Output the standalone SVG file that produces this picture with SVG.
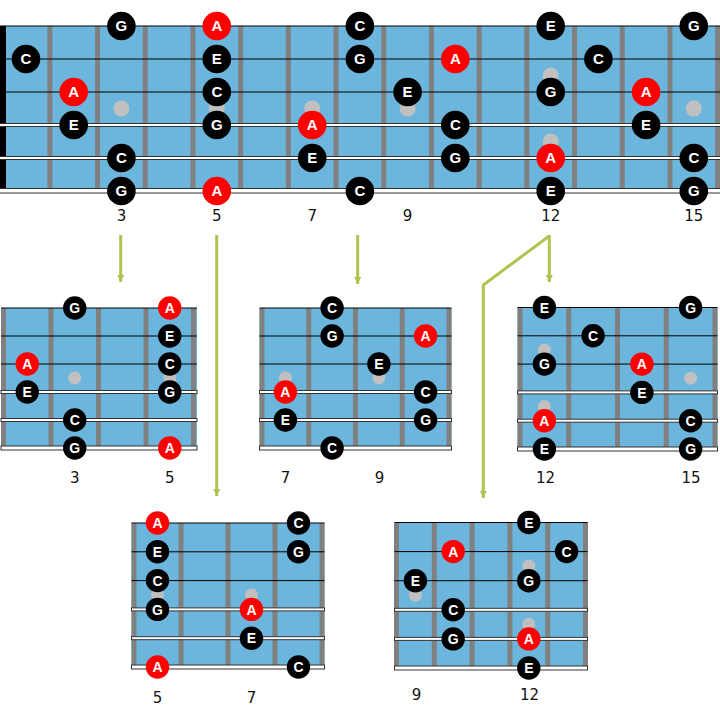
<svg xmlns="http://www.w3.org/2000/svg" width="720" height="719" viewBox="0 0 720 719">
<defs>
<style>
.bd{fill:#6cb6dd}
.nut{fill:#000}
.fr{fill:#808080}
.dot{fill:#c0c0c0}
.st{stroke:#000;stroke-width:1}
.wd{fill:#fff;stroke:#333;stroke-width:1}
.k{fill:#000}
.r{fill:#f00}
.t{font-family:"Liberation Sans",Arial,sans-serif;font-weight:bold;fill:#fff;text-anchor:middle}
.tb{font-size:15px}
.ts{font-size:14px}
.ts text{transform:translateY(0.3px)}
.num{font-family:"DejaVu Sans",Verdana,sans-serif;font-size:15px;fill:#111;text-anchor:middle}
.conn{fill:none;stroke:#adc54f;stroke-width:3}
</style>
<marker id="ah" markerUnits="userSpaceOnUse" markerWidth="8" markerHeight="8" viewBox="0 0 8 8" refX="7" refY="4" orient="auto">
<path d="M0,0.5 L7,4 L0,7.5 z" fill="#adc54f"/>
</marker>
</defs>
<rect width="720" height="719" fill="#fff"/>

<g id="board-main">
<rect class="bd" x="0" y="26" width="720" height="165"/>
<rect class="nut" x="0" y="26" width="6" height="163"/>
<g class="fr">
<rect x="47.35" y="26" width="5" height="165"/><rect x="95.05" y="26" width="5" height="165"/><rect x="142.75" y="26" width="5" height="165"/><rect x="190.45" y="26" width="5" height="165"/><rect x="238.15" y="26" width="5" height="165"/><rect x="285.85" y="26" width="5" height="165"/><rect x="333.55" y="26" width="5" height="165"/><rect x="381.25" y="26" width="5" height="165"/><rect x="428.95" y="26" width="5" height="165"/><rect x="476.65" y="26" width="5" height="165"/><rect x="524.35" y="26" width="5" height="165"/><rect x="572.05" y="26" width="5" height="165"/><rect x="619.75" y="26" width="5" height="165"/><rect x="667.45" y="26" width="5" height="165"/><rect x="715.15" y="26" width="5" height="165"/>
</g>
<g class="dot">
<circle cx="121.4" cy="108.5" r="8"/><circle cx="216.8" cy="108.5" r="8"/><circle cx="312.2" cy="108.5" r="8"/><circle cx="407.6" cy="108.5" r="8"/><circle cx="550.7" cy="75.5" r="8"/><circle cx="550.7" cy="141.5" r="8"/><circle cx="693.8" cy="108.5" r="8"/>
</g>
<line class="st" x1="0" y1="26" x2="720" y2="26"/>
<line class="st" x1="0" y1="59" x2="720" y2="59"/>
<line class="st" x1="0" y1="92" x2="720" y2="92"/>
<rect class="wd" x="-1" y="123.5" width="722" height="3"/>
<rect class="wd" x="-1" y="156.5" width="722" height="3"/>
<rect class="wd" x="-1" y="188.5" width="722" height="4.5"/>
<g class="t tb">
<circle class="k" cx="121.4" cy="26" r="14.3"/><text x="121.4" y="31.4">G</text>
<circle class="r" cx="216.8" cy="26" r="14.3"/><text x="216.8" y="31.4">A</text>
<circle class="k" cx="359.9" cy="26" r="14.3"/><text x="359.9" y="31.4">C</text>
<circle class="k" cx="550.7" cy="26" r="14.3"/><text x="550.7" y="31.4">E</text>
<circle class="k" cx="693.8" cy="26" r="14.3"/><text x="693.8" y="31.4">G</text>

<circle class="k" cx="26" cy="59" r="14.3"/><text x="26" y="64.4">C</text>
<circle class="k" cx="216.8" cy="59" r="14.3"/><text x="216.8" y="64.4">E</text>
<circle class="k" cx="359.9" cy="59" r="14.3"/><text x="359.9" y="64.4">G</text>
<circle class="r" cx="455.3" cy="59" r="14.3"/><text x="455.3" y="64.4">A</text>
<circle class="k" cx="598.4" cy="59" r="14.3"/><text x="598.4" y="64.4">C</text>

<circle class="r" cx="73.7" cy="92" r="14.3"/><text x="73.7" y="97.4">A</text>
<circle class="k" cx="216.8" cy="92" r="14.3"/><text x="216.8" y="97.4">C</text>
<circle class="k" cx="407.6" cy="92" r="14.3"/><text x="407.6" y="97.4">E</text>
<circle class="k" cx="550.7" cy="92" r="14.3"/><text x="550.7" y="97.4">G</text>
<circle class="r" cx="646.1" cy="92" r="14.3"/><text x="646.1" y="97.4">A</text>

<circle class="k" cx="73.7" cy="125" r="14.3"/><text x="73.7" y="130.4">E</text>
<circle class="k" cx="216.8" cy="125" r="14.3"/><text x="216.8" y="130.4">G</text>
<circle class="r" cx="312.2" cy="125" r="14.3"/><text x="312.2" y="130.4">A</text>
<circle class="k" cx="455.3" cy="125" r="14.3"/><text x="455.3" y="130.4">C</text>
<circle class="k" cx="646.1" cy="125" r="14.3"/><text x="646.1" y="130.4">E</text>

<circle class="k" cx="121.4" cy="158" r="14.3"/><text x="121.4" y="163.4">C</text>
<circle class="k" cx="312.2" cy="158" r="14.3"/><text x="312.2" y="163.4">E</text>
<circle class="k" cx="455.3" cy="158" r="14.3"/><text x="455.3" y="163.4">G</text>
<circle class="r" cx="550.7" cy="158" r="14.3"/><text x="550.7" y="163.4">A</text>
<circle class="k" cx="693.8" cy="158" r="14.3"/><text x="693.8" y="163.4">C</text>

<circle class="k" cx="121.4" cy="191" r="14.3"/><text x="121.4" y="196.4">G</text>
<circle class="r" cx="216.8" cy="191" r="14.3"/><text x="216.8" y="196.4">A</text>
<circle class="k" cx="359.9" cy="191" r="14.3"/><text x="359.9" y="196.4">C</text>
<circle class="k" cx="550.7" cy="191" r="14.3"/><text x="550.7" y="196.4">E</text>
<circle class="k" cx="693.8" cy="191" r="14.3"/><text x="693.8" y="196.4">G</text>
</g>
<g class="num">
<text x="121.4" y="221">3</text><text x="216.8" y="221">5</text><text x="312.2" y="221">7</text><text x="407.6" y="221">9</text><text x="550.7" y="221">12</text><text x="693.8" y="221">15</text>
</g>
</g>

<g id="board-3-5">
<rect class="bd" x="1" y="308" width="196" height="140"/>
<g class="fr">
<rect x="1" y="308" width="5" height="140"/><rect x="48.5" y="308" width="5" height="140"/><rect x="96" y="308" width="5" height="140"/><rect x="143.5" y="308" width="5" height="140"/><rect x="191" y="308" width="5" height="140"/>
</g>
<g class="dot"><circle cx="74.75" cy="378" r="6.5"/><circle cx="169.75" cy="378" r="6.5"/></g>
<line class="st" x1="1" y1="308" x2="197" y2="308"/>
<line class="st" x1="1" y1="336" x2="197" y2="336"/>
<line class="st" x1="1" y1="364" x2="197" y2="364"/>
<rect class="wd" x="1" y="390.5" width="196" height="3"/>
<rect class="wd" x="1" y="418.5" width="196" height="3"/>
<rect class="wd" x="1" y="446" width="196" height="4"/>
<g class="t ts">
<circle class="k" cx="74.75" cy="308" r="11.7"/><text x="74.75" y="313">G</text>
<circle class="r" cx="169.75" cy="308" r="11.7"/><text x="169.75" y="313">A</text>
<circle class="k" cx="169.75" cy="336" r="11.7"/><text x="169.75" y="341">E</text>
<circle class="r" cx="27.25" cy="364" r="11.7"/><text x="27.25" y="369">A</text>
<circle class="k" cx="169.75" cy="364" r="11.7"/><text x="169.75" y="369">C</text>
<circle class="k" cx="27.25" cy="392" r="11.7"/><text x="27.25" y="397">E</text>
<circle class="k" cx="169.75" cy="392" r="11.7"/><text x="169.75" y="397">G</text>
<circle class="k" cx="74.75" cy="420" r="11.7"/><text x="74.75" y="425">C</text>
<circle class="k" cx="74.75" cy="448" r="11.7"/><text x="74.75" y="453">G</text>
<circle class="r" cx="169.75" cy="448" r="11.7"/><text x="169.75" y="453">A</text>
</g>
<g class="num"><text x="74.75" y="483">3</text><text x="169.75" y="483">5</text></g>
</g>

<g id="board-7-9">
<rect class="bd" x="259.5" y="308" width="192" height="140"/>
<g class="fr">
<rect x="259.5" y="308" width="5" height="140"/><rect x="306.25" y="308" width="5" height="140"/><rect x="353" y="308" width="5" height="140"/><rect x="399.75" y="308" width="5" height="140"/><rect x="446.5" y="308" width="5" height="140"/>
</g>
<g class="dot"><circle cx="285.4" cy="378" r="6.5"/><circle cx="378.9" cy="378" r="6.5"/></g>
<line class="st" x1="259.5" y1="308" x2="451.5" y2="308"/>
<line class="st" x1="259.5" y1="336" x2="451.5" y2="336"/>
<line class="st" x1="259.5" y1="364" x2="451.5" y2="364"/>
<rect class="wd" x="259.5" y="390.5" width="192" height="3"/>
<rect class="wd" x="259.5" y="418.5" width="192" height="3"/>
<rect class="wd" x="259.5" y="446" width="192" height="4"/>
<g class="t ts">
<circle class="k" cx="332.1" cy="308" r="11.7"/><text x="332.1" y="313">C</text>
<circle class="k" cx="332.1" cy="336" r="11.7"/><text x="332.1" y="341">G</text>
<circle class="r" cx="425.6" cy="336" r="11.7"/><text x="425.6" y="341">A</text>
<circle class="k" cx="378.9" cy="364" r="11.7"/><text x="378.9" y="369">E</text>
<circle class="r" cx="285.4" cy="392" r="11.7"/><text x="285.4" y="397">A</text>
<circle class="k" cx="425.6" cy="392" r="11.7"/><text x="425.6" y="397">C</text>
<circle class="k" cx="285.4" cy="420" r="11.7"/><text x="285.4" y="425">E</text>
<circle class="k" cx="425.6" cy="420" r="11.7"/><text x="425.6" y="425">G</text>
<circle class="k" cx="332.1" cy="448" r="11.7"/><text x="332.1" y="453">C</text>
</g>
<g class="num"><text x="285.4" y="483">7</text><text x="379.5" y="483">9</text></g>
</g>

<g id="board-12-15">
<rect class="bd" x="517.5" y="307.5" width="200" height="141.5"/>
<g class="fr">
<rect x="517.5" y="307.5" width="5" height="141.5"/><rect x="566.25" y="307.5" width="5" height="141.5"/><rect x="615" y="307.5" width="5" height="141.5"/><rect x="663.75" y="307.5" width="5" height="141.5"/><rect x="712.5" y="307.5" width="5" height="141.5"/>
</g>
<g class="dot"><circle cx="544.4" cy="350" r="6.5"/><circle cx="544.4" cy="406.5" r="6.5"/><circle cx="690.6" cy="378.2" r="6.5"/></g>
<line class="st" x1="517.5" y1="307.5" x2="717.5" y2="307.5"/>
<line class="st" x1="517.5" y1="335.8" x2="717.5" y2="335.8"/>
<line class="st" x1="517.5" y1="364.1" x2="717.5" y2="364.1"/>
<rect class="wd" x="517.5" y="390.9" width="200" height="3"/>
<rect class="wd" x="517.5" y="419.2" width="200" height="3"/>
<rect class="wd" x="517.5" y="447" width="200" height="4"/>
<g class="t ts">
<circle class="k" cx="544.4" cy="307.5" r="11.7"/><text x="544.4" y="312.5">E</text>
<circle class="k" cx="690.6" cy="307.5" r="11.7"/><text x="690.6" y="312.5">G</text>
<circle class="k" cx="593.1" cy="335.8" r="11.7"/><text x="593.1" y="340.8">C</text>
<circle class="k" cx="544.4" cy="364.1" r="11.7"/><text x="544.4" y="369.1">G</text>
<circle class="r" cx="641.9" cy="364.1" r="11.7"/><text x="641.9" y="369.1">A</text>
<circle class="k" cx="641.9" cy="392.4" r="11.7"/><text x="641.9" y="397.4">E</text>
<circle class="r" cx="544.4" cy="420.7" r="11.7"/><text x="544.4" y="425.7">A</text>
<circle class="k" cx="690.6" cy="420.7" r="11.7"/><text x="690.6" y="425.7">C</text>
<circle class="k" cx="544.4" cy="449" r="11.7"/><text x="544.4" y="454">E</text>
<circle class="k" cx="690.6" cy="449" r="11.7"/><text x="690.6" y="454">G</text>
</g>
<g class="num"><text x="545.5" y="483">12</text><text x="691" y="483">15</text></g>
</g>

<g id="board-5-7">
<rect class="bd" x="131.5" y="523" width="193" height="144"/>
<g class="fr">
<rect x="131.5" y="523" width="5" height="144"/><rect x="178.5" y="523" width="5" height="144"/><rect x="225.5" y="523" width="5" height="144"/><rect x="272.5" y="523" width="5" height="144"/><rect x="319.5" y="523" width="5" height="144"/>
</g>
<g class="dot"><circle cx="157.5" cy="595" r="6.5"/><circle cx="251.5" cy="595" r="6.5"/></g>
<line class="st" x1="131.5" y1="523" x2="324.5" y2="523"/>
<line class="st" x1="131.5" y1="551.8" x2="324.5" y2="551.8"/>
<line class="st" x1="131.5" y1="580.6" x2="324.5" y2="580.6"/>
<rect class="wd" x="131.5" y="607.9" width="193" height="3"/>
<rect class="wd" x="131.5" y="636.7" width="193" height="3"/>
<rect class="wd" x="131.5" y="665" width="193" height="4"/>
<g class="t ts">
<circle class="r" cx="157.5" cy="523" r="11.7"/><text x="157.5" y="528">A</text>
<circle class="k" cx="298.5" cy="523" r="11.7"/><text x="298.5" y="528">C</text>
<circle class="k" cx="157.5" cy="551.8" r="11.7"/><text x="157.5" y="556.8">E</text>
<circle class="k" cx="298.5" cy="551.8" r="11.7"/><text x="298.5" y="556.8">G</text>
<circle class="k" cx="157.5" cy="580.6" r="11.7"/><text x="157.5" y="585.6">C</text>
<circle class="k" cx="157.5" cy="609.4" r="11.7"/><text x="157.5" y="614.4">G</text>
<circle class="r" cx="251.5" cy="609.4" r="11.7"/><text x="251.5" y="614.4">A</text>
<circle class="k" cx="251.5" cy="638.2" r="11.7"/><text x="251.5" y="643.2">E</text>
<circle class="r" cx="157.5" cy="667" r="11.7"/><text x="157.5" y="672">A</text>
<circle class="k" cx="298.5" cy="667" r="11.7"/><text x="298.5" y="672">C</text>
</g>
<g class="num"><text x="157.5" y="703">5</text><text x="251.5" y="703">7</text></g>
</g>

<g id="board-9-12">
<rect class="bd" x="394.5" y="522.5" width="193" height="145.5"/>
<g class="fr">
<rect x="394" y="522.5" width="5" height="145.5"/><rect x="431.8" y="522.5" width="5" height="145.5"/><rect x="469.6" y="522.5" width="5" height="145.5"/><rect x="507.4" y="522.5" width="5" height="145.5"/><rect x="545.2" y="522.5" width="5" height="145.5"/><rect x="583" y="522.5" width="5" height="145.5"/>
</g>
<g class="dot"><circle cx="415.4" cy="595.2" r="6.5"/><circle cx="528.8" cy="566.1" r="6.5"/><circle cx="528.8" cy="624.3" r="6.5"/></g>
<line class="st" x1="394.5" y1="522.5" x2="587.5" y2="522.5"/>
<line class="st" x1="394.5" y1="551.6" x2="587.5" y2="551.6"/>
<line class="st" x1="394.5" y1="580.7" x2="587.5" y2="580.7"/>
<rect class="wd" x="394.5" y="608.3" width="193" height="3"/>
<rect class="wd" x="394.5" y="637.4" width="193" height="3"/>
<rect class="wd" x="394.5" y="666" width="193" height="4"/>
<g class="t ts">
<circle class="k" cx="528.8" cy="522.5" r="11.7"/><text x="528.8" y="527.5">E</text>
<circle class="r" cx="453.2" cy="551.6" r="11.7"/><text x="453.2" y="556.6">A</text>
<circle class="k" cx="566.6" cy="551.6" r="11.7"/><text x="566.6" y="556.6">C</text>
<circle class="k" cx="415.4" cy="580.7" r="11.7"/><text x="415.4" y="585.7">E</text>
<circle class="k" cx="528.8" cy="580.7" r="11.7"/><text x="528.8" y="585.7">G</text>
<circle class="k" cx="453.2" cy="609.8" r="11.7"/><text x="453.2" y="614.8">C</text>
<circle class="k" cx="453.2" cy="638.9" r="11.7"/><text x="453.2" y="643.9">G</text>
<circle class="r" cx="528.8" cy="638.9" r="11.7"/><text x="528.8" y="643.9">A</text>
<circle class="k" cx="528.8" cy="668" r="11.7"/><text x="528.8" y="673">E</text>
</g>
<g class="num"><text x="416.5" y="699.5">9</text><text x="529.5" y="699.5">12</text></g>
</g>

<g id="connectors">
<path class="conn" d="M120.7,235 V282" marker-end="url(#ah)"/>
<path class="conn" d="M216.7,235 V496" marker-end="url(#ah)"/>
<path class="conn" d="M357.7,235 V284" marker-end="url(#ah)"/>
<path class="conn" d="M549.3,235 V282" marker-end="url(#ah)"/>
<path class="conn" d="M549.3,236 L483.3,285 V498" marker-end="url(#ah)"/>
</g>
</svg>
